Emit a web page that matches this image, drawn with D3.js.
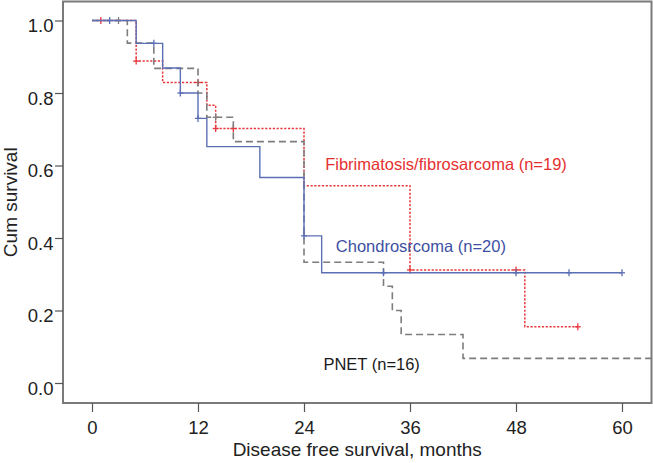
<!DOCTYPE html>
<html><head><meta charset="utf-8">
<script src="https://cdn.jsdelivr.net/npm/d3@7"></script>
<style>
html,body{margin:0;padding:0;background:#fff;}
svg text{font-family:"Liberation Sans",Arial,Helvetica,sans-serif;}
</style></head>
<body><svg id="chart" width="653" height="463"></svg>
<script>
// ---- data ----
const xTicks = [0, 12, 24, 36, 48, 60];
const yTicks = [0.0, 0.2, 0.4, 0.6, 0.8, 1.0];

// Chondrosarcoma (n=20): step times & survival after step
const chondroTimes = [0, 5, 8, 10, 12, 13, 19, 24, 26, 60];
const chondroSurv  = [1.0, 0.937, 0.869, 0.800, 0.730, 0.652, 0.567, 0.406, 0.304, 0.304];
const chondroCensT = [2, 7, 10, 12, 24, 33, 48, 54, 60];

// Fibrimatosis/fibrosarcoma (n=19)
const fibroTimes = [0, 5, 8, 13, 14, 24, 36, 49, 55];
const fibroSurv  = [1.0, 0.888, 0.829, 0.766, 0.702, 0.544, 0.312, 0.155, 0.155];
const fibroCensT = [1, 5, 12, 14, 16, 36, 48, 55];

// PNET (n=16)
const pnetTimes = [0, 4, 7, 12, 13, 16, 24, 33, 34, 35, 42, 63.3];
const pnetSurv  = [1.0, 0.9375, 0.868, 0.800, 0.733, 0.666, 0.333, 0.267, 0.200, 0.134, 0.068, 0.068];
const pnetCensT = [3, 14];

const labels = ["Fibrimatosis/fibrosarcoma (n=19)", "Chondrosrcoma (n=20)", "PNET (n=16)"];
const labelAt = [[26.4, 0.588], [27.6, 0.361], [26.2, 0.036]]; // [month, survival] anchor of label text

// ---- drawing ----
const svg = d3.select("#chart");
const x = d3.scaleLinear().domain([0, 60]).range([92, 622]);
const y = d3.scaleLinear().domain([0, 1]).range([383, 20.5]);
const frame = {l: 63, t: 1.5, r: 651.5, b: 403};

const series = [
  {times: fibroTimes, surv: fibroSurv, cens: fibroCensT, color: "#e8383d", dash: "2.2,1.6", w: 1.5},
  {times: pnetTimes, surv: pnetSurv, cens: pnetCensT, color: "#7d7d7d", dash: "7,4", w: 1.6},
  {times: chondroTimes, surv: chondroSurv, cens: chondroCensT, color: "#5b6fb5", dash: null, w: 1.4},
];

function survAt(s, t) {
  let v = s.surv[0];
  for (let i = 0; i < s.times.length; i++) if (s.times[i] <= t) v = s.surv[i];
  return v;
}

const line = d3.line().x(d => x(d[0])).y(d => y(d[1])).curve(d3.curveStepAfter);

series.forEach(s => {
  const pts = s.times.map((t, i) => [t, s.surv[i]]);
  svg.append("path").attr("d", line(pts)).attr("fill", "none")
    .attr("stroke", s.color).attr("stroke-width", s.w)
    .attr("stroke-dasharray", s.dash);
  const g = svg.append("g");
  s.cens.forEach(t => {
    const cx = x(t), cy = y(survAt(s, t));
    g.append("line").attr("x1", cx).attr("x2", cx).attr("y1", cy - 3.5).attr("y2", cy + 3.5)
      .attr("stroke", s.color).attr("stroke-width", 1.3);
    g.append("line").attr("x1", cx - 3).attr("x2", cx + 3).attr("y1", cy).attr("y2", cy)
      .attr("stroke", s.color).attr("stroke-width", 1.3);
  });
});

// frame
svg.append("rect").attr("x", frame.l).attr("y", frame.t)
  .attr("width", frame.r - frame.l).attr("height", frame.b - frame.t)
  .attr("fill", "none").attr("stroke", "#7a7a7a").attr("stroke-width", 2);

// axes
const yAxis = d3.axisLeft(y).tickValues(yTicks).tickFormat(d3.format(".1f")).tickSize(8).tickPadding(1.5);
const gy = svg.append("g").attr("transform", `translate(${frame.l},0)`).call(yAxis);
const xAxis = d3.axisBottom(x).tickValues(xTicks).tickSize(9).tickPadding(9);
const gx = svg.append("g").attr("transform", `translate(0,${frame.b})`).call(xAxis);
[gx, gy].forEach(g => {
  g.select(".domain").remove();
  g.selectAll(".tick line").attr("stroke", "#555").attr("stroke-width", 1.2);
  g.selectAll(".tick text").attr("fill", "#222").style("font-size", "18.5px");
});
gy.selectAll(".tick text").attr("dy", "0.6em");

svg.append("text").attr("x", (frame.l + frame.r) / 2).attr("y", 456).attr("text-anchor", "middle")
  .style("font-size", "19px").attr("fill", "#222").text("Disease free survival, months");
svg.append("text").attr("transform", `translate(17,${(frame.t + frame.b) / 2}) rotate(-90)`).attr("text-anchor", "middle")
  .style("font-size", "19px").attr("fill", "#222").text("Cum survival");

const labelColors = ["#e5302f", "#3d50a3", "#1a1a1a"];
labels.forEach((t, i) => {
  svg.append("text").attr("x", x(labelAt[i][0])).attr("y", y(labelAt[i][1]))
    .style("font-size", "16.5px").attr("fill", labelColors[i]).text(t);
});
</script></body></html>
